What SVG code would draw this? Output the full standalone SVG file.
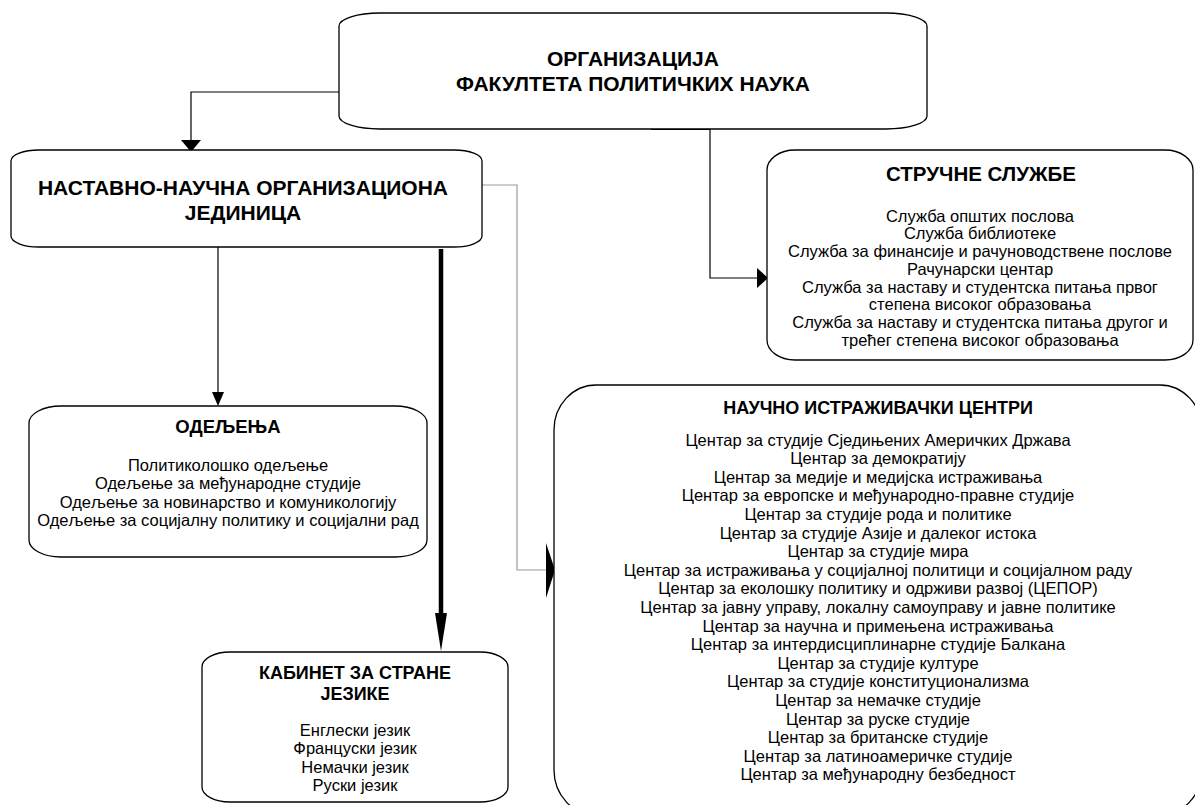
<svg xmlns="http://www.w3.org/2000/svg" width="1195" height="805" viewBox="0 0 1195 805">
<style>
.box{fill:#fff;stroke:#000;stroke-width:1.3}
.t{font-family:"Liberation Sans",Arial,sans-serif;text-anchor:middle;fill:#000}
.h{font-weight:bold}
.b{font-size:16.5px}
.line{fill:none;stroke:#000;stroke-width:1.2}
.grey{fill:none;stroke:#999;stroke-width:1.2}
</style>
<rect width="1195" height="805" fill="#fff"/>
<g id="connectors">
<path class="line" d="M339,92 H191 V140"/>
<polygon points="181,140 201,140 191,152" fill="#000"/>
<path class="line" d="M651,129 H710 V278 H758"/>
<path d="M651,129 H710" stroke="#000" stroke-width="2"/>
<polygon points="757,268 768,278 757,288" fill="#000"/>
<path class="line" d="M218,247 V393"/>
<polygon points="212,392 224,392 218,406" fill="#000"/>
<path d="M441,249 V614" stroke="#000" stroke-width="4.5" fill="none"/>
<polygon points="435,613 447,613 441,651" fill="#000"/>
<path class="grey" d="M482,185 H517 V570 H547"/>
<polygon points="546,543 555,570 546,598" fill="#000"/>
</g>
<g id="node-main">
<rect class="box" x="339" y="13" width="588" height="116" rx="41" ry="13"/>
<text class="t h" font-size="21" x="633" y="66">ОРГАНИЗАЦИЈА</text>
<text class="t h" font-size="21" x="633" y="91">ФАКУЛТЕТА ПОЛИТИЧКИХ НАУКА</text>
</g>
<g id="node-nastavno">
<rect class="box" x="11" y="150" width="471" height="97" rx="28" ry="11"/>
<text class="t h" font-size="21" x="243" y="195">НАСТАВНО-НАУЧНА ОРГАНИЗАЦИОНА</text>
<text class="t h" font-size="21" x="243" y="220">ЈЕДИНИЦА</text>
</g>
<g id="node-strucne">
<rect class="box" x="767" y="150" width="426" height="210" rx="28" ry="20"/>
<text class="t h" font-size="20.5" x="981" y="181">СТРУЧНЕ СЛУЖБЕ</text>
<text class="t b" x="980" y="221.7">Служба општих послова</text>
<text class="t b" x="980" y="239.4">Служба библиотеке</text>
<text class="t b" x="980" y="257.1">Служба за финансије и рачуноводствене послове</text>
<text class="t b" x="980" y="274.8">Рачунарски центар</text>
<text class="t b" x="980" y="292.5">Служба за наставу и студентска питања првог</text>
<text class="t b" x="980" y="310.2">степена високог образовања</text>
<text class="t b" x="980" y="327.9">Служба за наставу и студентска питања другог и</text>
<text class="t b" x="980" y="345.6">трећег степена високог образовања</text>
</g>
<g id="node-odeljenja">
<rect class="box" x="29" y="406" width="398" height="151" rx="32" ry="17"/>
<text class="t h" font-size="18.5" x="228" y="433">ОДЕЉЕЊА</text>
<text class="t b" x="228" y="470.5">Политиколошко одељење</text>
<text class="t b" x="228" y="489">Одељење за међународне студије</text>
<text class="t b" x="228" y="507.5">Одељење за новинарство и комуникологију</text>
<text class="t b" x="228" y="526">Одељење за социјалну политику и социјални рад</text>
</g>
<g id="node-kabinet">
<rect class="box" x="202" y="652" width="306" height="150" rx="28" ry="15"/>
<text class="t h" font-size="18" x="355" y="679">КАБИНЕТ ЗА СТРАНЕ</text>
<text class="t h" font-size="18" x="355" y="700">ЈЕЗИКЕ</text>
<text class="t b" x="355" y="735.5">Енглески језик</text>
<text class="t b" x="355" y="754">Француски језик</text>
<text class="t b" x="355" y="772.5">Немачки језик</text>
<text class="t b" x="355" y="791">Руски језик</text>
</g>
<g id="node-centri">
<rect class="box" x="554" y="385" width="648" height="430" rx="42" ry="45"/>
<text class="t h" font-size="18" x="878" y="414">НАУЧНО ИСТРАЖИВАЧКИ ЦЕНТРИ</text>
<text class="t b" x="878" y="445.5">Центар за студије Сједињених Америчких Држава</text>
<text class="t b" x="878" y="464.1">Центар за демократију</text>
<text class="t b" x="878" y="482.7">Центар за медије и медијска истраживања</text>
<text class="t b" x="878" y="501.3">Центар за европске и међународно-правне студије</text>
<text class="t b" x="878" y="519.9">Центар за студије рода и политике</text>
<text class="t b" x="878" y="538.5">Центар за студије Азије и далеког истока</text>
<text class="t b" x="878" y="557.1">Центар за студије мира</text>
<text class="t b" x="878" y="575.7">Центар за истраживања у социјалној политици и социјалном раду</text>
<text class="t b" x="878" y="594.3">Центар за еколошку политику и одрживи развој (ЦЕПОР)</text>
<text class="t b" x="878" y="612.9">Центар за јавну управу, локалну самоуправу и јавне политике</text>
<text class="t b" x="878" y="631.5">Центар за научна и примењена истраживања</text>
<text class="t b" x="878" y="650.1">Центар за интердисциплинарне студије Балкана</text>
<text class="t b" x="878" y="668.7">Центар за студије културе</text>
<text class="t b" x="878" y="687.3">Центар за студије конституционализма</text>
<text class="t b" x="878" y="705.9">Центар за немачке студије</text>
<text class="t b" x="878" y="724.5">Центар за руске студије</text>
<text class="t b" x="878" y="743.1">Центар за британске студије</text>
<text class="t b" x="878" y="761.7">Центар за латиноамеричке студије</text>
<text class="t b" x="878" y="780.3">Центар за међународну безбедност</text>
</g>
</svg>
